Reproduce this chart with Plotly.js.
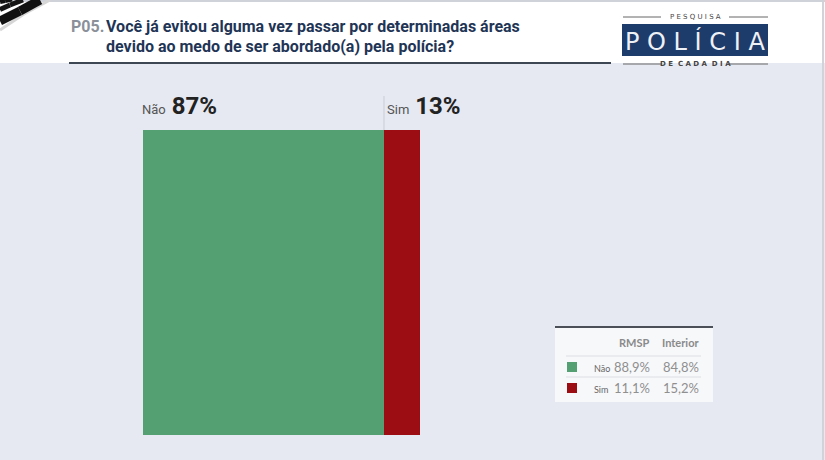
<!DOCTYPE html>
<html><head><meta charset="utf-8">
<script src="https://cdn.plot.ly/plotly-3.0.1.min.js"></script>
<style>html,body{margin:0;padding:0;background:#e6e9f1;}#chart{width:825px;height:460px;}</style>
</head><body><div id="chart"></div>
<script>
const categories = ['Não', 'Sim'];
const values = [87, 13];
const tableColumns = ['RMSP', 'Interior'];
const rmspValues = [88.9, 11.1];
const interiorValues = [84.8, 15.2];
const colors = ['#55a072', '#9b0d12'];
const questionCode = 'P05.';
const questionLines = ['Você já evitou alguma vez passar por determinadas áreas', 'devido ao medo de ser abordado(a) pela polícia?'];

const W = 825, H = 460;
const px = x => x / W;
const py = y => 1 - y / H;
const fmt = v => v.toFixed(1).replace('.', ',') + '%';

const traces = categories.map((c, i) => ({
  type: 'bar', orientation: 'h', name: c,
  x: [values[i]], y: ['q'],
  marker: { color: colors[i], line: { width: 0 } },
  hoverinfo: 'skip', showlegend: false
}));

const shapes = [];
const annotations = [];
function rect(x0, y0, x1, y1, fill, layer) {
  shapes.push({ type: 'rect', xref: 'paper', yref: 'paper', x0: px(x0), x1: px(x1), y0: py(y1), y1: py(y0),
    fillcolor: fill, line: { width: 0 }, layer: layer || 'above' });
}
function line(x0, y0, x1, y1, color, w, layer) {
  shapes.push({ type: 'line', xref: 'paper', yref: 'paper', x0: px(x0), x1: px(x1), y0: py(y0), y1: py(y1),
    line: { color: color, width: w }, layer: layer || 'above' });
}
function text(t, x, y, opts) {
  annotations.push(Object.assign({ text: t, xref: 'paper', yref: 'paper', x: px(x), y: py(y),
    showarrow: false, xanchor: 'left', yanchor: 'middle', font: { family: 'Roboto', size: 12, color: '#333' } }, opts || {}));
}

// header
rect(0, 0, W, 63, '#ffffff', 'below');
line(69, 63, 611, 63, '#3d4754', 2);
line(823, 0, 823, H, '#d0d3da', 2);
line(0, 1, W, 1, '#cfd2d8', 2);
// corner stripes (decoration), drawn as short diagonal segments
line(0, 30, 24, 14, '#d6d6d6', 3); line(24, 14, 50, 0, '#d6d6d6', 3);
line(0, 21, 20, 11, '#111111', 9); line(20, 11, 40, 0, '#111111', 9);
line(0, 9.5, 10, 5, '#151515', 5); line(10, 5, 23, 0, '#151515', 5);
line(0, 1.5, 5, 0.5, '#111111', 5); line(5, 0.5, 12, -1, '#111111', 5);

// title
const titleFont = { family: 'Roboto', size: 16, color: '#1f3556', weight: 'bold' };
text(questionCode, 69, 26, { font: { family: 'Roboto', size: 16, color: '#8a9099', weight: 'bold' } });
text(questionLines[0], 104, 26, { font: titleFont });
text(questionLines[1], 104, 47, { font: titleFont });

// logo
rect(622, 24, 768, 56, '#1e3c6b');
text('P O L Í C I A', 695, 41, { xanchor: 'center', font: { family: 'DejaVu Sans', size: 24, color: '#eef1f6' } });
text('P E S Q U I S A', 695, 17, { xanchor: 'center', font: { family: 'DejaVu Sans', size: 7, color: '#444' } });
text('D E  C A D A  D I A', 695, 64, { xanchor: 'center', font: { family: 'DejaVu Sans', size: 7, color: '#444', weight: 'bold' } });
line(623, 17, 661, 17, '#666', 1);
line(729, 17, 768, 17, '#666', 1);
line(623, 64, 662, 64, '#666', 1);
line(728, 64, 768, 64, '#666', 1);

// bar labels
let cum = 0;
categories.forEach((c, i) => {
  annotations.push({ text: `<span style="font-size:13px;color:#555">${c}</span> <b>${values[i]}%</b>`,
    xref: 'x', yref: 'paper', x: cum, y: py(106), xanchor: 'left', yanchor: 'middle', xshift: i === 0 ? -3 : 1,
    showarrow: false, font: { family: 'Roboto', size: 24, color: '#222' } });
  if (i > 0) shapes.push({ type: 'line', xref: 'x', yref: 'paper', x0: cum, x1: cum, y0: py(130), y1: py(96),
    line: { color: '#c9ccd4', width: 1 } });
  cum += values[i];
});

// table
rect(555, 327, 713, 402, '#f7f8fa');
line(555, 327, 713, 327, '#4a4f58', 2);
line(566, 356, 701, 356, '#dcdee3', 1);
line(566, 377, 701, 377, '#dcdee3', 1);
const tblFont = { family: 'Lato', size: 11, color: '#8a8a8a', weight: 'bold' };
text(tableColumns[0], 652, 342, { xanchor: 'right', font: tblFont });
text(tableColumns[1], 701, 342, { xanchor: 'right', font: tblFont });
const rowY = [367, 388];
const valFont = { family: 'Lato', size: 13, color: '#8f8f8f' };
categories.forEach((c, i) => {
  rect(567, rowY[i] - 5, 577, rowY[i] + 5, colors[i]);
  text(c, 592, rowY[i] + 1, { font: { family: 'Lato', size: 9, color: '#666' } });
  text(fmt(rmspValues[i]), 652, rowY[i], { xanchor: 'right', font: valFont });
  text(fmt(interiorValues[i]), 701, rowY[i], { xanchor: 'right', font: valFont });
});

const layout = {
  width: W, height: H,
  margin: { l: 0, r: 0, t: 0, b: 0 },
  paper_bgcolor: '#e6e9f1', plot_bgcolor: 'rgba(0,0,0,0)',
  barmode: 'stack', bargap: 0,
  xaxis: { domain: [px(143), px(420)], range: [0, 100], visible: false, fixedrange: true },
  yaxis: { domain: [py(435), py(130)], visible: false, fixedrange: true },
  shapes: shapes, annotations: annotations, showlegend: false
};
Plotly.newPlot('chart', traces, layout, { displayModeBar: false, staticPlot: true });
</script></body></html>
